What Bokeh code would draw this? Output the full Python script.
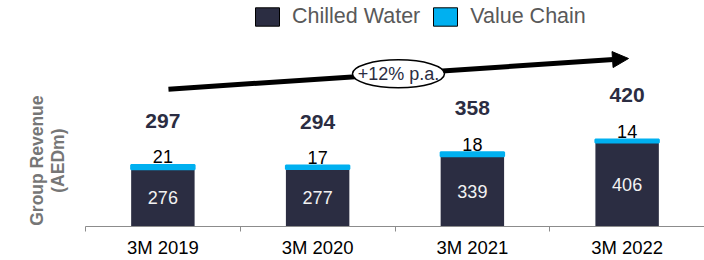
import math
from bokeh.plotting import figure
from bokeh.models import (ColumnDataSource, Range1d, FixedTicker, Label, Arrow,
                          NormalHead, Legend, LegendItem)
from bokeh.embed import file_html
from bokeh.resources import INLINE
from bokeh.core.properties import value

# ---- data ----
periods = ["3M 2019", "3M 2020", "3M 2021", "3M 2022"]
chilled_water = [276, 277, 339, 406]
value_chain = [21, 17, 18, 14]
totals = [297, 294, 358, 420]
series_names = ["Chilled Water", "Value Chain"]
growth_label = "+12% p.a."
y_title = ["Group Revenue", "(AEDm)"]

# ---- style ----
DARK = "#2b2d42"
CYAN = "#00b0f0"
FONT = "Liberation Sans"
GREY = "#8c8c8c"

n = len(periods)
xpos = [i + 0.5 for i in range(n)]
src = ColumnDataSource(dict(
    x=xpos, cw=chilled_water, tot=totals,
    cw_mid=[c / 2 for c in chilled_water],
    cw_lbl=[str(v) for v in chilled_water],
    vc_lbl=[str(v) for v in value_chain],
    tot_lbl=[str(v) for v in totals],
))

LEFT_PAD = -0.5493   # room for the vertical axis title inside the frame
p = figure(width=704, height=260, x_range=Range1d(LEFT_PAD, n), y_range=Range1d(0, 1091),
           output_backend="svg", toolbar_location=None, y_axis_location=None,
           min_border_left=0, min_border_right=0, min_border_top=0, min_border_bottom=33)
p.outline_line_color = None
p.xgrid.visible = False
p.ygrid.visible = False
p.background_fill_color = "white"
p.border_fill_color = "white"

bw = 0.41
r1 = p.vbar(x="x", bottom=0, top="cw", width=bw, fill_color=DARK, line_color=None, source=src)
r2 = p.vbar(x="x", bottom="cw", top="tot", width=bw, fill_color=CYAN, line_color=CYAN,
            line_width=2, source=src)

p.text(x="x", y="cw_mid", text="cw_lbl", text_align="center", text_baseline="middle",
       text_color="#f2f2f2", text_font=value(FONT), text_font_size="18px", source=src)
p.text(x="x", y="tot", text="vc_lbl", y_offset=-8, text_align="center", text_baseline="middle",
       text_color="black", text_font=value(FONT), text_font_size="18px", source=src)
p.text(x="x", y="tot", text="tot_lbl", y_offset=-44, text_align="center", text_baseline="middle",
       text_color=DARK, text_font=value(FONT), text_font_size="21px", text_font_style="bold",
       source=src)

# growth arrow
ax0, ay0, ax1, ay1 = 0.536, 663, 3.509, 811
arrow = Arrow(end=NormalHead(size=16, fill_color="black", line_color="black", line_width=1),
              x_start=ax0, y_start=ay0, x_end=ax1, y_end=ay1,
              line_width=5, line_color="black", level="underlay")
p.add_layout(arrow)
cx, cy = (ax0 + ax1) / 2, (ay0 + ay1) / 2
p.ellipse(x=[cx], y=[cy], width=92, height=28, width_units="screen", height_units="screen",
          fill_color="white", line_color="black", line_width=1.5)
p.add_layout(Label(x=cx, y=cy, text=growth_label, text_align="center", text_baseline="middle",
                   text_font=FONT, text_font_size="18px", text_color=DARK))

# legend (hidden twins of the bars, with an outline)
d1 = p.vbar(x="x", top="cw", width=bw, fill_color=DARK, line_color="black", line_width=1,
            source=src, visible=False)
d2 = p.vbar(x="x", bottom="cw", top="tot", width=bw, fill_color=CYAN, line_color="black",
            line_width=1, source=src, visible=False)
legend = Legend(items=[LegendItem(label=series_names[0], renderers=[d1]),
                       LegendItem(label=series_names[1], renderers=[d2])],
                orientation="horizontal", location=(252, 197),
                glyph_width=30, glyph_height=23, label_standoff=10, spacing=10,
                padding=0, margin=0, border_line_color=None, background_fill_alpha=0,
                inactive_fill_alpha=0,
                label_text_font=FONT, label_text_font_size="21.5px",
                label_text_color="#595959", label_height=24)
p.add_layout(legend)

# x axis
xa = p.xaxis[0]
xa.bounds = (0, n)
xa.ticker = FixedTicker(ticks=xpos, minor_ticks=list(range(n + 1)))
xa.major_label_overrides = {x: lab for x, lab in zip(xpos, periods)}
xa.axis_line_color = GREY
xa.major_tick_line_color = None
xa.major_tick_out = 0
xa.major_tick_in = 0
xa.minor_tick_line_color = GREY
xa.minor_tick_out = 5
xa.minor_tick_in = 0
xa.major_label_standoff = 5
xa.major_label_text_font = FONT
xa.major_label_text_font_size = "18.5px"
xa.major_label_text_color = "black"

# y title
for xv, t in zip([-0.3166, -0.1745], y_title):
    p.add_layout(Label(x=xv, y=318, text=t, angle=math.pi / 2, text_align="center",
                       text_baseline="middle", text_font=FONT, text_font_size="17.5px",
                       text_font_style="bold", text_color="#767676"))

open("out.html", "w").write(file_html(p, INLINE))
